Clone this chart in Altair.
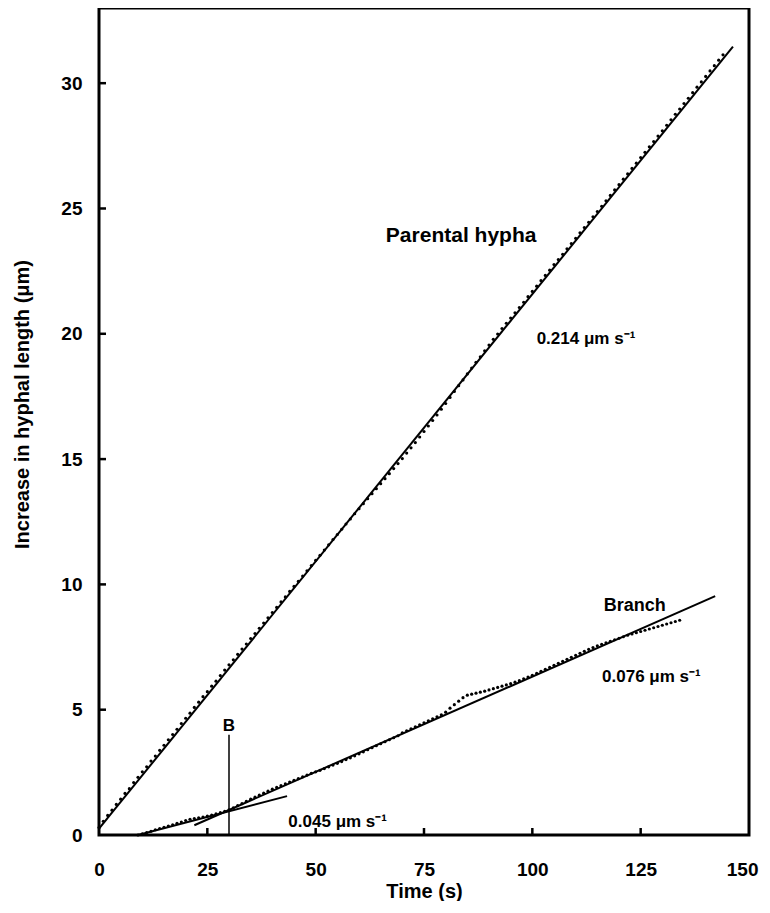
import altair as alt
import pandas as pd

# ---------------- data ----------------
par_time = list(range(0, 145))
par_len = [
    0.30, 0.55, 0.78, 0.99, 1.22, 1.43, 1.66, 1.85, 2.09, 2.30,
    2.52, 2.72, 2.95, 3.15, 3.38, 3.58, 3.80, 4.01, 4.22, 4.45,
    4.66, 4.86, 5.09, 5.30, 5.52, 5.72, 5.94, 6.14, 6.36, 6.58,
    6.79, 6.99, 7.21, 7.42, 7.62, 7.84, 8.04, 8.25, 8.46, 8.67,
    8.88, 9.08, 9.30, 9.50, 9.72, 9.92, 10.12, 10.33, 10.54, 10.75,
    10.96, 11.16, 11.37, 11.58, 11.79, 11.99, 12.20, 12.41, 12.61, 12.82,
    13.02, 13.22, 13.42, 13.62, 13.82, 14.02, 14.22, 14.42, 14.62, 14.82,
    15.02, 15.24, 15.45, 15.66, 15.88, 16.10, 16.32, 16.54, 16.76, 16.99,
    17.22, 17.46, 17.70, 17.93, 18.16, 18.40, 18.63, 18.86, 19.08, 19.32,
    19.55, 19.78, 19.99, 20.21, 20.42, 20.63, 20.84, 21.05, 21.26, 21.48,
    21.69, 21.90, 22.12, 22.33, 22.54, 22.76, 22.96, 23.17, 23.39, 23.60,
    23.81, 24.03, 24.24, 24.45, 24.67, 24.88, 25.09, 25.31, 25.52, 25.74,
    25.95, 26.17, 26.38, 26.60, 26.81, 27.03, 27.24, 27.46, 27.67, 27.89,
    28.10, 28.32, 28.54, 28.76, 28.97, 29.19, 29.40, 29.62, 29.84, 30.05,
    30.27, 30.49, 30.70, 30.92, 31.13,
]

br_time = list(range(9, 135))
br_len = [
    0.00, 0.05, 0.10, 0.15, 0.21, 0.26, 0.31, 0.36, 0.41, 0.47,
    0.52, 0.58, 0.63, 0.66, 0.69, 0.72, 0.75, 0.79, 0.84, 0.89, 0.94,
    1.00, 1.08, 1.17, 1.25, 1.34, 1.43, 1.51, 1.59, 1.67, 1.75,
    1.83, 1.90, 1.97, 2.04, 2.11, 2.18, 2.25, 2.32, 2.39, 2.46,
    2.52, 2.58, 2.65, 2.72, 2.79, 2.86, 2.93, 3.01, 3.08, 3.16,
    3.24, 3.32, 3.40, 3.48, 3.56, 3.64, 3.72, 3.80, 3.88, 3.96,
    4.08, 4.16, 4.24, 4.32, 4.40, 4.48, 4.56, 4.64, 4.72, 4.80,
    4.90, 5.06, 5.20, 5.34, 5.48, 5.58, 5.62, 5.66, 5.70, 5.74,
    5.79, 5.84, 5.89, 5.94, 5.99, 6.04, 6.10, 6.16, 6.23, 6.30,
    6.37, 6.45, 6.53, 6.61, 6.69, 6.77, 6.85, 6.93, 7.01, 7.09,
    7.17, 7.25, 7.33, 7.41, 7.48, 7.55, 7.61, 7.67, 7.73, 7.79,
    7.85, 7.91, 7.97, 8.02, 8.07, 8.12, 8.17, 8.22, 8.27, 8.32,
    8.37, 8.42, 8.47, 8.52, 8.57,
]

# regression lines (end points)
par_fit_t = [0, 146.3]
par_fit_y = [0.25, 31.46]
br_fit_t = [22, 142.2]
br_fit_y = [0.39, 9.53]
br_early_fit_t = [9, 43.4]
br_early_fit_y = [0.0, 1.55]

# branch emergence marker
b_mark_t = [30, 30]
b_mark_y = [0, 4.0]

# annotations
big_labels = ["Parental hypha", "Branch"]
big_label_t = [66.2, 116.5]
big_label_y = [23.9, 9.15]
big_label_size = [21, 18]

rate_labels = ["0.214 \u03bcm s\u207b\u00b9", "0.076 \u03bcm s\u207b\u00b9", "0.045 \u03bcm s\u207b\u00b9"]
rate_label_t = [101.0, 116.1, 43.7]
rate_label_y = [19.8, 6.3, 0.53]

x_ticks = [0, 25, 50, 75, 100, 125, 150]
y_ticks = [0, 5, 10, 15, 20, 25, 30]
x_inner_ticks = [25, 50, 75, 100, 125]
y_inner_ticks = [5, 10, 15, 20, 25, 30]

# ---------------- tables ----------------
dots = pd.concat([
    pd.DataFrame({"t": par_time, "v": par_len, "s": "parental"}),
    pd.DataFrame({"t": br_time, "v": br_len, "s": "branch"}),
])
fits = pd.concat([
    pd.DataFrame({"t": par_fit_t, "v": par_fit_y, "s": "par"}),
    pd.DataFrame({"t": br_fit_t, "v": br_fit_y, "s": "br"}),
    pd.DataFrame({"t": br_early_fit_t, "v": br_early_fit_y, "s": "br0"}),
])
bmark = pd.DataFrame({"t": [b_mark_t[0]], "v": [b_mark_y[0]], "v2": [b_mark_y[1]]})
blab = pd.DataFrame({"t": [b_mark_t[0]], "v": [4.35], "txt": ["B"]})
big = pd.DataFrame({"t": big_label_t, "v": big_label_y, "txt": big_labels, "fs": big_label_size})
rates = pd.DataFrame({"t": rate_label_t, "v": rate_label_y, "txt": rate_labels})
xt = pd.DataFrame({"t": x_inner_ticks})
yt = pd.DataFrame({"v": y_inner_ticks})

FONT = "Liberation Sans"
W, H = 650, 827

xscale = alt.Scale(domain=[0, 150], nice=False, zero=False)
yscale = alt.Scale(domain=[0, 33], nice=False, zero=False)

x_axis = alt.Axis(
    values=x_ticks, title="Time (s)", domain=False, ticks=False, grid=False,
    labelFlush=False, labelPadding=25, labelFontSize=19,
    labelAlign=alt.ExprRef(expr="datum.value == 150 ? 'right' : 'center'"),
    labelOffset=alt.ExprRef(expr="datum.value == 150 ? 9 : 0"),
    titleFontSize=20, titleY=56, titleBaseline="middle",
)
y_axis = alt.Axis(
    values=y_ticks, title="Increase in hyphal length (\u03bcm)", domain=False,
    ticks=False, grid=False, labelPadding=17, labelFontSize=19,
    titleFontSize=20, titleX=-77, titleY=396, titleAngle=270,
    titleBaseline="middle", titleAlign="center",
)

X = alt.X("t:Q", scale=xscale, axis=x_axis)
Y = alt.Y("v:Q", scale=yscale, axis=y_axis)

dot_layer = alt.Chart(dots).mark_circle(size=10, color="black", opacity=1).encode(
    x=X, y=Y, detail="s:N",
)

fit_layer = alt.Chart(fits).mark_line(color="black", strokeWidth=2).encode(
    x=X, y=Y, detail="s:N"
)

b_layer = alt.Chart(bmark).mark_rule(color="black", strokeWidth=1.5).encode(
    x=X, y=Y, y2="v2:Q"
)
b_text = alt.Chart(blab).mark_text(
    font=FONT, fontWeight="bold", fontSize=17, align="center", baseline="middle"
).encode(x=X, y=Y, text="txt:N")

big_text = alt.Chart(big).mark_text(
    font=FONT, fontWeight="bold", align="left", baseline="middle"
).encode(x=X, y=Y, text="txt:N", size=alt.Size("fs:Q", scale=None, legend=None))

rate_text = alt.Chart(rates).mark_text(
    font=FONT, fontWeight="bold", fontSize=17, align="left", baseline="middle"
).encode(x=X, y=Y, text="txt:N")

xtick_layer = alt.Chart(xt).mark_rule(color="black", strokeWidth=2.5).encode(
    x=X, y=alt.value(H), y2=alt.value(H - 7)
)
ytick_layer = alt.Chart(yt).mark_rule(color="black", strokeWidth=2.5).encode(
    y=Y, x=alt.value(0), x2=alt.value(7)
)

chart = alt.layer(
    dot_layer, fit_layer, b_layer, b_text, big_text, rate_text, xtick_layer, ytick_layer
).properties(
    width=W, height=H,
    background="white",
    autosize=alt.AutoSizeParams(type="none"),
    padding={"left": 91, "top": 0, "right": 11, "bottom": 66},
).configure_view(
    stroke="black", strokeWidth=3
).configure_axis(
    labelFont=FONT, labelFontWeight="bold", labelColor="black",
    titleFont=FONT, titleFontWeight="bold", titleColor="black",
)

chart.save("out.html", embed_options={"renderer": "svg", "actions": False})
